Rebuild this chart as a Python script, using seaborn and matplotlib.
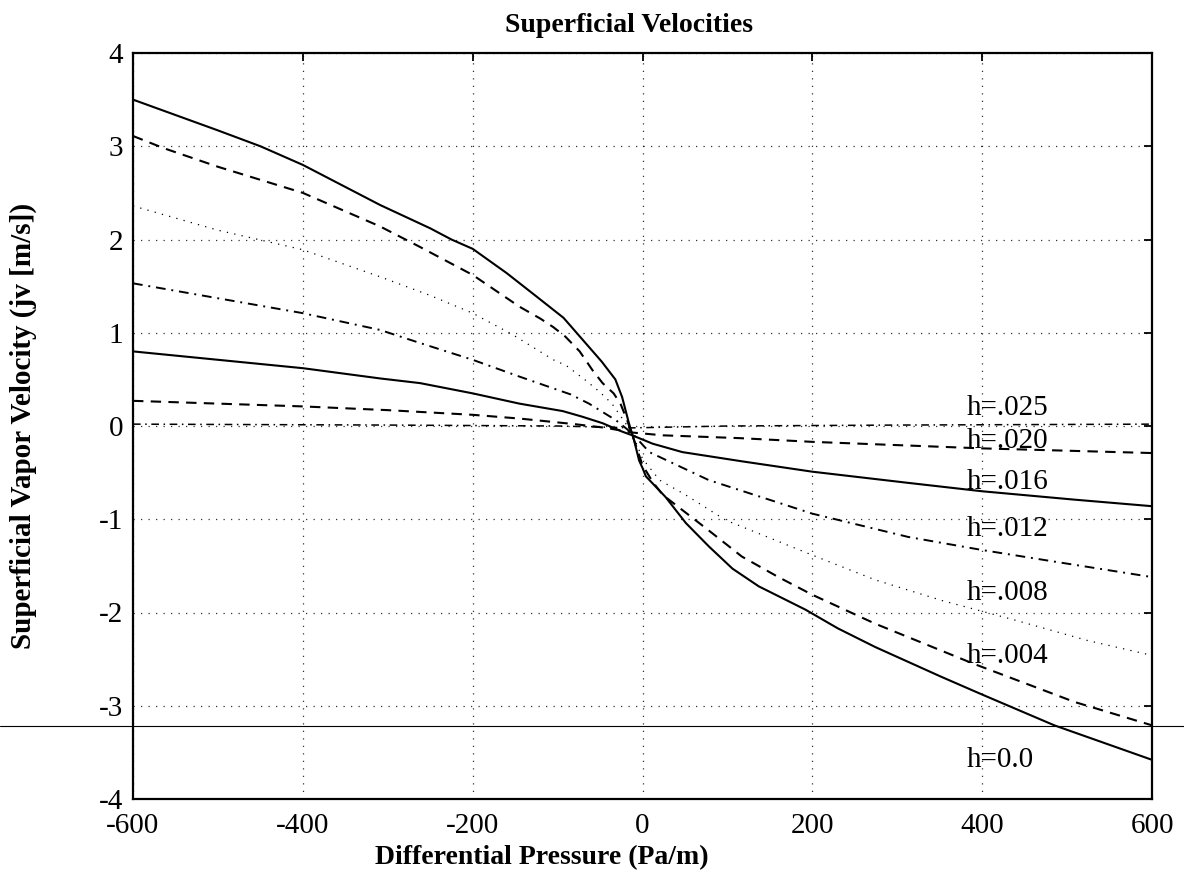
import matplotlib
matplotlib.use("Agg")
import matplotlib.pyplot as plt
from matplotlib.lines import Line2D
import seaborn as sns
import pandas as pd

# ---- data ----
x_h000 = [-600, -500, -450, -400, -309, -250, -225, -200, -160, -125, -93, -70, -48, -32, -24, -16, -10, -4, 0, 4, 27, 51, 78, 106, 137, 192, 230, 274, 352, 400, 485, 600]
y_h000 = [3.50, 3.17, 3.00, 2.80, 2.37, 2.12, 2.00, 1.90, 1.64, 1.39, 1.16, 0.92, 0.69, 0.50, 0.31, 0.03, -0.15, -0.37, -0.45, -0.54, -0.76, -1.04, -1.29, -1.53, -1.72, -1.97, -2.17, -2.37, -2.69, -2.88, -3.21, -3.58]

x_h004 = [-600, -564, -500, -400, -309, -262, -200, -145, -120, -105, -91, -74, -59, -47, -34, -26, -18, -10, 0, 12, 24, 78, 117, 160, 200, 274, 390, 509, 600]
y_h004 = [3.11, 2.98, 2.78, 2.50, 2.14, 1.92, 1.62, 1.28, 1.15, 1.06, 0.96, 0.80, 0.60, 0.46, 0.35, 0.24, 0.06, -0.15, -0.42, -0.60, -0.74, -1.12, -1.40, -1.62, -1.81, -2.12, -2.55, -2.96, -3.21]

x_h008 = [-600, -500, -400, -309, -250, -200, -153, -105, -90, -67, -51, -36, -20, -12, 0, 20, 51, 98, 196, 274, 352, 438, 524, 600]
y_h008 = [2.36, 2.10, 1.89, 1.60, 1.40, 1.21, 0.98, 0.71, 0.65, 0.49, 0.37, 0.24, 0.03, -0.08, -0.35, -0.58, -0.74, -1.01, -1.37, -1.65, -1.87, -2.08, -2.30, -2.46]

x_h012 = [-600, -500, -400, -309, -262, -200, -145, -85, -63, -47, -31, -12, 8, 78, 200, 313, 400, 489, 600]
y_h012 = [1.53, 1.37, 1.21, 1.03, 0.89, 0.71, 0.53, 0.34, 0.24, 0.15, 0.06, -0.08, -0.28, -0.58, -0.94, -1.19, -1.33, -1.46, -1.62]

x_h016 = [-600, -500, -400, -309, -262, -200, -145, -94, -71, -47, -24, -12, 12, 47, 118, 200, 313, 400, 509, 600]
y_h016 = [0.80, 0.71, 0.62, 0.51, 0.46, 0.35, 0.24, 0.16, 0.10, 0.03, -0.06, -0.10, -0.19, -0.28, -0.38, -0.49, -0.61, -0.70, -0.79, -0.86]

x_h020 = [-600, -500, -400, -300, -200, -145, -80, -43, -12, 24, 114, 200, 400, 600]
y_h020 = [0.27, 0.24, 0.21, 0.17, 0.12, 0.08, 0.02, -0.02, -0.07, -0.10, -0.13, -0.17, -0.24, -0.29]

x_h025 = [-600, -300, -100, -12, 100, 300, 600]
y_h025 = [0.02, 0.01, 0.00, -0.02, 0.00, 0.01, 0.02]

series_names = ["h=0.0", "h=.004", "h=.008", "h=.012", "h=.016", "h=.020", "h=.025"]
label_y = [-3.58, -2.47, -1.79, -1.10, -0.60, -0.16, 0.19]
label_x = 382

x_ticks = [-600, -400, -200, 0, 200, 400, 600]
y_ticks = [-4, -3, -2, -1, 0, 1, 2, 3, 4]

title = "Superficial Velocities"
xlabel = "Differential Pressure (Pa/m)"
ylabel = "Superficial Vapor Velocity (jv [m/s])"

# ---- styling ----
sns.set_theme(style="white")
plt.rcParams["font.family"] = ["Liberation Serif", "DejaVu Serif"]
plt.rcParams["axes.unicode_minus"] = False

xs = [x_h000, x_h004, x_h008, x_h012, x_h016, x_h020, x_h025]
ys = [y_h000, y_h004, y_h008, y_h012, y_h016, y_h020, y_h025]
styles = ["-", (0, (5, 3.5)), (0, (1, 5)), (0, (5, 3, 1, 3)), "-", (0, (5, 3.5)), (0, (5, 3, 1, 3))]
widths = [1.5, 1.5, 0.9, 1.4, 1.5, 1.5, 1.1]

fig = plt.figure(figsize=(11.84, 8.74), dpi=100)
ax = fig.add_axes([133 / 1184, 1 - 799 / 874, (1152 - 133) / 1184, (799 - 53) / 874])

for name, xv, yv, ls, lw in zip(series_names, xs, ys, styles, widths):
    df = pd.DataFrame({"x": xv, "y": yv})
    sns.lineplot(data=df, x="x", y="y", ax=ax, color="black", linewidth=lw,
                 linestyle=ls, estimator=None, sort=True)

ax.set_xlim(-600, 600)
ax.set_ylim(-4, 4)
ax.set_xticks(x_ticks)
ax.set_yticks(y_ticks)
ax.set_xticklabels([str(v) for v in x_ticks])
ax.set_yticklabels([str(v) for v in y_ticks])
ax.grid(True, color="black", linestyle=(0, (1, 5)), linewidth=0.9, alpha=0.8)
ax.tick_params(direction="in", length=6, width=1.3, top=True, right=True,
               labelsize=21, color="black", labelcolor="black")
ax.tick_params(axis="x", pad=10)
ax.tick_params(axis="y", pad=7)
for sp in ax.spines.values():
    sp.set_color("black")
    sp.set_linewidth(1.6)

for nm, ly in zip(series_names, label_y):
    ax.text(label_x, ly, nm, fontsize=21, va="center", ha="left", color="black")

ax.set_xlabel(xlabel, fontsize=20, fontweight="bold", color="black")
ax.xaxis.set_label_coords(0.401, -0.079)
ax.xaxis.label.set_va("center")
ax.set_ylabel(ylabel, fontsize=21, fontweight="bold", color="black")
ax.yaxis.set_label_coords(-0.108, 0.5)
ax.yaxis.label.set_va("center")
ax.text(0.487, 1.0375, title, transform=ax.transAxes, fontsize=20, fontweight="bold",
        ha="center", va="center", color="black")

# scan artifact: thin line across the whole sheet
fig.add_artist(Line2D([0, 1], [1 - 726 / 874, 1 - 726 / 874], transform=fig.transFigure,
                      color="black", linewidth=0.8))

fig.savefig("out.png", dpi=100, facecolor="white")
